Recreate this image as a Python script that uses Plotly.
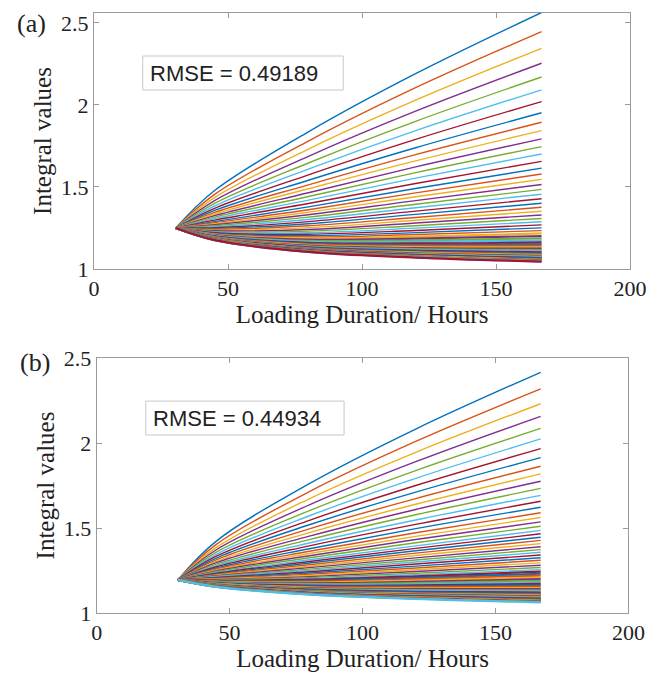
import plotly.graph_objects as go

hours = [30.5, 45, 80, 120, 167]

# Common starting value of every curve (at 30.5 h)
start_a = 1.25
start_b = 1.195

# Panel (a): each row = curve values at 45, 80, 120, 167 h
curves_a = [
    [1.478, 1.836, 2.190, 2.563],
    [1.455, 1.780, 2.105, 2.447],
    [1.435, 1.731, 2.029, 2.345],
    [1.417, 1.687, 1.962, 2.254],
    [1.400, 1.646, 1.900, 2.170],
    [1.384, 1.609, 1.843, 2.092],
    [1.370, 1.574, 1.790, 2.020],
    [1.357, 1.541, 1.739, 1.952],
    [1.345, 1.513, 1.697, 1.894],
    [1.335, 1.489, 1.659, 1.843],
    [1.325, 1.465, 1.622, 1.793],
    [1.316, 1.442, 1.587, 1.746],
    [1.307, 1.420, 1.554, 1.701],
    [1.298, 1.399, 1.521, 1.656],
    [1.289, 1.379, 1.491, 1.615],
    [1.282, 1.361, 1.464, 1.579],
    [1.276, 1.346, 1.440, 1.546],
    [1.270, 1.331, 1.417, 1.515],
    [1.264, 1.316, 1.395, 1.485],
    [1.258, 1.302, 1.373, 1.456],
    [1.252, 1.289, 1.353, 1.428],
    [1.247, 1.276, 1.333, 1.401],
    [1.242, 1.264, 1.314, 1.376],
    [1.237, 1.252, 1.297, 1.352],
    [1.233, 1.241, 1.280, 1.329],
    [1.228, 1.231, 1.264, 1.308],
    [1.224, 1.221, 1.249, 1.288],
    [1.221, 1.212, 1.235, 1.269],
    [1.217, 1.203, 1.222, 1.251],
    [1.214, 1.195, 1.210, 1.234],
    [1.210, 1.187, 1.197, 1.217],
    [1.207, 1.179, 1.185, 1.201],
    [1.204, 1.172, 1.175, 1.187],
    [1.202, 1.166, 1.165, 1.174],
    [1.199, 1.160, 1.156, 1.162],
    [1.197, 1.155, 1.148, 1.151],
    [1.195, 1.150, 1.141, 1.141],
    [1.193, 1.146, 1.134, 1.132],
    [1.192, 1.142, 1.128, 1.124],
    [1.190, 1.138, 1.122, 1.116],
    [1.189, 1.135, 1.117, 1.109],
    [1.187, 1.132, 1.112, 1.102],
    [1.186, 1.129, 1.108, 1.096],
    [1.185, 1.126, 1.103, 1.090],
    [1.184, 1.123, 1.100, 1.085],
    [1.183, 1.121, 1.096, 1.080],
    [1.182, 1.119, 1.092, 1.075],
    [1.181, 1.117, 1.089, 1.071],
    [1.180, 1.115, 1.086, 1.067],
    [1.180, 1.113, 1.083, 1.063],
    [1.179, 1.111, 1.080, 1.059],
    [1.178, 1.109, 1.078, 1.056],
    [1.178, 1.108, 1.076, 1.053],
    [1.177, 1.106, 1.074, 1.050],
    [1.176, 1.105, 1.072, 1.047],
    [1.176, 1.104, 1.070, 1.045],
]

# Panel (b): each row = curve values at 45, 80, 120, 167 h
curves_b = [
    [1.423, 1.761, 2.082, 2.416],
    [1.404, 1.714, 2.009, 2.318],
    [1.386, 1.672, 1.945, 2.231],
    [1.372, 1.636, 1.890, 2.157],
    [1.358, 1.602, 1.838, 2.086],
    [1.345, 1.572, 1.792, 2.024],
    [1.334, 1.545, 1.750, 1.967],
    [1.323, 1.519, 1.711, 1.914],
    [1.313, 1.495, 1.673, 1.863],
    [1.304, 1.473, 1.640, 1.818],
    [1.296, 1.452, 1.609, 1.775],
    [1.287, 1.432, 1.578, 1.733],
    [1.279, 1.412, 1.547, 1.692],
    [1.272, 1.395, 1.521, 1.657],
    [1.265, 1.378, 1.496, 1.622],
    [1.259, 1.363, 1.472, 1.590],
    [1.253, 1.350, 1.451, 1.562],
    [1.248, 1.337, 1.432, 1.536],
    [1.243, 1.325, 1.413, 1.510],
    [1.238, 1.313, 1.395, 1.486],
    [1.234, 1.303, 1.380, 1.466],
    [1.230, 1.294, 1.366, 1.446],
    [1.226, 1.284, 1.352, 1.427],
    [1.223, 1.275, 1.338, 1.408],
    [1.219, 1.267, 1.324, 1.390],
    [1.216, 1.258, 1.312, 1.373],
    [1.213, 1.251, 1.300, 1.357],
    [1.209, 1.243, 1.288, 1.341],
    [1.206, 1.235, 1.276, 1.325],
    [1.203, 1.228, 1.265, 1.310],
    [1.200, 1.221, 1.254, 1.295],
    [1.197, 1.214, 1.244, 1.281],
    [1.195, 1.208, 1.234, 1.268],
    [1.192, 1.202, 1.225, 1.255],
    [1.190, 1.196, 1.216, 1.243],
    [1.187, 1.190, 1.207, 1.231],
    [1.185, 1.185, 1.199, 1.220],
    [1.183, 1.179, 1.191, 1.209],
    [1.181, 1.175, 1.183, 1.199],
    [1.179, 1.170, 1.176, 1.189],
    [1.177, 1.165, 1.169, 1.180],
    [1.176, 1.161, 1.163, 1.171],
    [1.174, 1.157, 1.157, 1.163],
    [1.172, 1.153, 1.151, 1.155],
    [1.171, 1.150, 1.145, 1.147],
    [1.169, 1.146, 1.140, 1.140],
    [1.168, 1.143, 1.135, 1.133],
    [1.167, 1.139, 1.130, 1.126],
    [1.165, 1.137, 1.125, 1.120],
    [1.164, 1.134, 1.121, 1.114],
    [1.163, 1.131, 1.116, 1.108],
    [1.162, 1.128, 1.113, 1.103],
    [1.161, 1.126, 1.109, 1.098],
    [1.160, 1.124, 1.105, 1.093],
    [1.159, 1.121, 1.102, 1.088],
    [1.158, 1.119, 1.099, 1.084],
    [1.157, 1.117, 1.096, 1.080],
    [1.157, 1.115, 1.093, 1.076],
    [1.156, 1.113, 1.090, 1.072],
    [1.155, 1.112, 1.087, 1.069],
    [1.155, 1.110, 1.085, 1.066],
    [1.154, 1.109, 1.083, 1.063],
]

x_ticks = [0, 50, 100, 150, 200]
y_ticks = [1, 1.5, 2, 2.5]
rmse_labels = ["RMSE = 0.49189", "RMSE = 0.44934"]
panel_labels = ["(a)", "(b)"]
x_title = "Loading Duration/ Hours"
y_title = "Integral values"

colors = ['#0072BD', '#D95319', '#EDB120', '#7E2F8E', '#77AC30', '#4DBEEE', '#A2142F']

fig = go.Figure()

for (curves, start, xa, ya, n_clear) in [(curves_a, start_a, 'x', 'y', 30), (curves_b, start_b, 'x2', 'y2', 34)]:
    for i, row in enumerate(curves):
        dense = i >= n_clear
        fig.add_trace(go.Scatter(
            x=hours, y=[start] + row, mode='lines', xaxis=xa, yaxis=ya,
            line=dict(color=colors[i % len(colors)], width=2.2 if dense else 1.4,
                      shape='spline', smoothing=1.0),
            showlegend=False, hoverinfo='skip'))

serif = 'Liberation Serif, Times New Roman, serif'
axis_common = dict(
    showline=True, linecolor='#9a9a9a', linewidth=1, mirror='ticks',
    ticks='inside', ticklen=5, tickcolor='#9a9a9a', tickwidth=1,
    showgrid=False, zeroline=False, automargin=False,
    tickfont=dict(family=serif, size=22, color='#222222'),
)

fig.update_layout(
    width=652, height=669,
    margin=dict(l=86, r=30, t=5, b=64),
    paper_bgcolor='white', plot_bgcolor='white',
    xaxis=dict(domain=[0, 1], range=[0, 200], tickvals=x_ticks, anchor='y',
               title=dict(text=x_title, font=dict(family=serif, size=25, color='#222222'), standoff=4),
               **axis_common),
    yaxis=dict(domain=[0.5733, 1], range=[1, 2.56], tickvals=y_ticks, anchor='x',
               title=dict(text=y_title, font=dict(family=serif, size=25, color='#222222'), standoff=2),
               **axis_common),
    xaxis2=dict(domain=[0.005, 0.997], range=[0, 200], tickvals=x_ticks, anchor='y2',
                title=dict(text=x_title, font=dict(family=serif, size=25, color='#222222'), standoff=4),
                **axis_common),
    yaxis2=dict(domain=[0, 0.425], range=[1, 2.5], tickvals=y_ticks, anchor='x2',
                title=dict(text=y_title, font=dict(family=serif, size=25, color='#222222'), standoff=2),
                **axis_common),
)

# RMSE boxes
boxes = [
    ('x domain', 'y domain', 0.0909, 0.465, 0.699, 0.832, rmse_labels[0]),
    ('x2 domain', 'y2 domain', 0.0924, 0.4653, 0.698, 0.831, rmse_labels[1]),
]
for xr, yr, x0, x1, y0, y1, txt in boxes:
    fig.add_shape(type='rect', xref=xr, yref=yr, x0=x0, x1=x1, y0=y0, y1=y1,
                  line=dict(color='#c8c8c8', width=1), fillcolor='white', layer='above')
    fig.add_annotation(xref=xr, yref=yr, x=x0 + 0.009, y=(y0 + y1) / 2,
                       xanchor='left', yanchor='middle', showarrow=False, text=txt,
                       font=dict(family='Liberation Sans, Arial, sans-serif', size=22, color='#222222'))

# Panel labels
fig.add_annotation(xref='paper', yref='paper', x=-0.1175, y=0.983, xanchor='center', yanchor='middle',
                   showarrow=False, text=panel_labels[0],
                   font=dict(family=serif, size=26, color='#222222'))
fig.add_annotation(xref='paper', yref='paper', x=-0.111, y=0.4167, xanchor='center', yanchor='middle',
                   showarrow=False, text=panel_labels[1],
                   font=dict(family=serif, size=26, color='#222222'))

fig.write_html("out.html")
